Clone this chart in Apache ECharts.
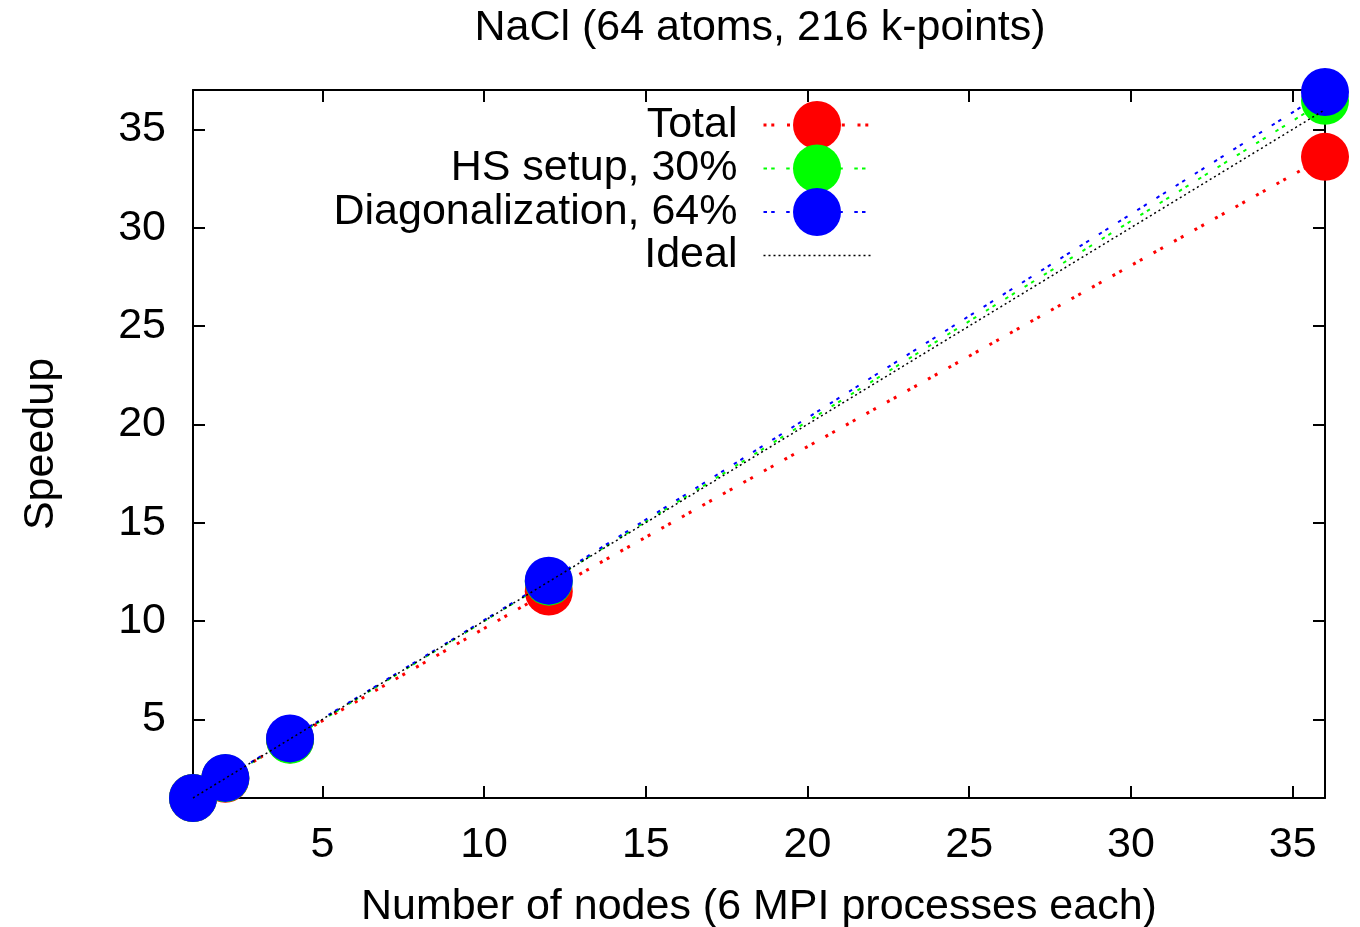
<!DOCTYPE html>
<html>
<head>
<meta charset="utf-8">
<script src="https://cdn.jsdelivr.net/npm/echarts@6/dist/echarts.min.js"></script>
<style>
  html, body { margin: 0; padding: 0; background: #fff; }
  #chart { width: 1360px; height: 927px; }
</style>
</head>
<body>
<div id="chart"></div>
<script>
// Node counts (6 MPI processes per node)
const nodes = [1, 2, 4, 12, 36];
// Measured speedups
const totalSpeedup = [1, 1.98, 3.98, 11.5, 33.6];
const hsSetupSpeedup = [1, 2.0, 3.96, 12.0, 36.45];
const diagSpeedup = [1, 2.02, 4.03, 12.05, 36.9];
// Ideal linear scaling
const idealSpeedup = [1, 2, 4, 12, 36];

const seriesNames = ['Total', 'HS setup, 30%', 'Diagonalization, 64%', 'Ideal'];
const xTicks = [5, 10, 15, 20, 25, 30, 35];
const yTicks = [5, 10, 15, 20, 25, 30, 35];

const FONT = '"Liberation Sans", Arial, Helvetica, sans-serif';
const FS = 43;

const pairs = (xs, ys) => xs.map((x, i) => [x, ys[i]]);

const chart = echarts.init(document.getElementById('chart'), null, { renderer: 'canvas' });

const baseX = {
  type: 'value', min: 1, max: 36,
  axisLine: { show: true, lineStyle: { color: '#000', width: 2 } },
  axisTick: { show: true, inside: true, length: 12, customValues: xTicks, lineStyle: { color: '#000', width: 2 } },
  splitLine: { show: false }
};
const baseY = {
  type: 'value', min: 1, max: 37,
  axisLine: { show: true, lineStyle: { color: '#000', width: 2 } },
  axisTick: { show: true, inside: true, length: 12, customValues: yTicks, lineStyle: { color: '#000', width: 2 } },
  splitLine: { show: false }
};

// dash patterns: paired dots / paired short dashes / fine dots
const DOT_PAIR = [3, 4.8, 3, 12.7];
const DASH_PAIR = [3.5, 4.2, 3.5, 11.5];
const FINE_DOT = [2, 3];

function lineSeries(name, ys, color, lineStyle, z) {
  return {
    name, type: 'line', data: pairs(nodes, ys), z,
    symbol: 'circle', symbolSize: 48, clip: false,
    itemStyle: { color },
    lineStyle: Object.assign({ color, cap: 'butt' }, lineStyle),
    emphasis: { disabled: true },
    animation: false
  };
}

chart.setOption({
  backgroundColor: '#fff',
  animation: false,
  title: {
    text: 'NaCl (64 atoms, 216 k-points)',
    left: 755, top: 2, textAlign: 'center',
    textStyle: { fontFamily: FONT, fontSize: FS, fontWeight: 'normal', color: '#000' }
  },
  grid: { left: 193, right: 35, top: 90, bottom: 129, containLabel: false, outerBoundsMode: 'none' },
  legend: {
    orient: 'vertical', align: 'right',
    right: 483, top: 96,
    itemWidth: 107, itemHeight: 60, itemGap: -4.5,
    selectedMode: false,
    textStyle: { fontFamily: FONT, fontSize: FS, color: '#000', padding: [0, 21, 0, 0] },
    data: [
      { name: seriesNames[0], lineStyle: { width: 3 } },
      { name: seriesNames[1], lineStyle: { width: 2 } },
      { name: seriesNames[2], lineStyle: { width: 2 } },
      { name: seriesNames[3], lineStyle: { width: 1.5 }, itemStyle: { opacity: 0 } }
    ]
  },
  xAxis: [
    Object.assign({}, baseX, {
      position: 'bottom',
      name: 'Number of nodes (6 MPI processes each)',
      nameLocation: 'middle', nameGap: 88,
      nameTextStyle: { fontFamily: FONT, fontSize: FS, color: '#000' },
      axisLabel: { show: true, customValues: xTicks, margin: 26, fontFamily: FONT, fontSize: FS, color: '#000' }
    }),
    Object.assign({}, baseX, { position: 'top', axisLabel: { show: false } })
  ],
  yAxis: [
    Object.assign({}, baseY, {
      position: 'left',
      name: 'Speedup',
      nameLocation: 'middle', nameGap: 130,
      nameTextStyle: { fontFamily: FONT, fontSize: FS, color: '#000' },
      axisLabel: { show: true, customValues: yTicks, margin: 27, fontFamily: FONT, fontSize: FS, color: '#000' }
    }),
    Object.assign({}, baseY, { position: 'right', axisLabel: { show: false } })
  ],
  series: [
    lineSeries(seriesNames[0], totalSpeedup, '#ff0000', { width: 3, type: DOT_PAIR }, 2),
    lineSeries(seriesNames[1], hsSetupSpeedup, '#00ff00', { width: 2, type: DASH_PAIR }, 3),
    lineSeries(seriesNames[2], diagSpeedup, '#0000ff', { width: 2, type: DASH_PAIR }, 4),
    Object.assign(lineSeries(seriesNames[3], idealSpeedup, '#000000', { width: 1.5, type: FINE_DOT }, 5),
      { symbol: 'none', showSymbol: false })
  ]
});
</script>
</body>
</html>
